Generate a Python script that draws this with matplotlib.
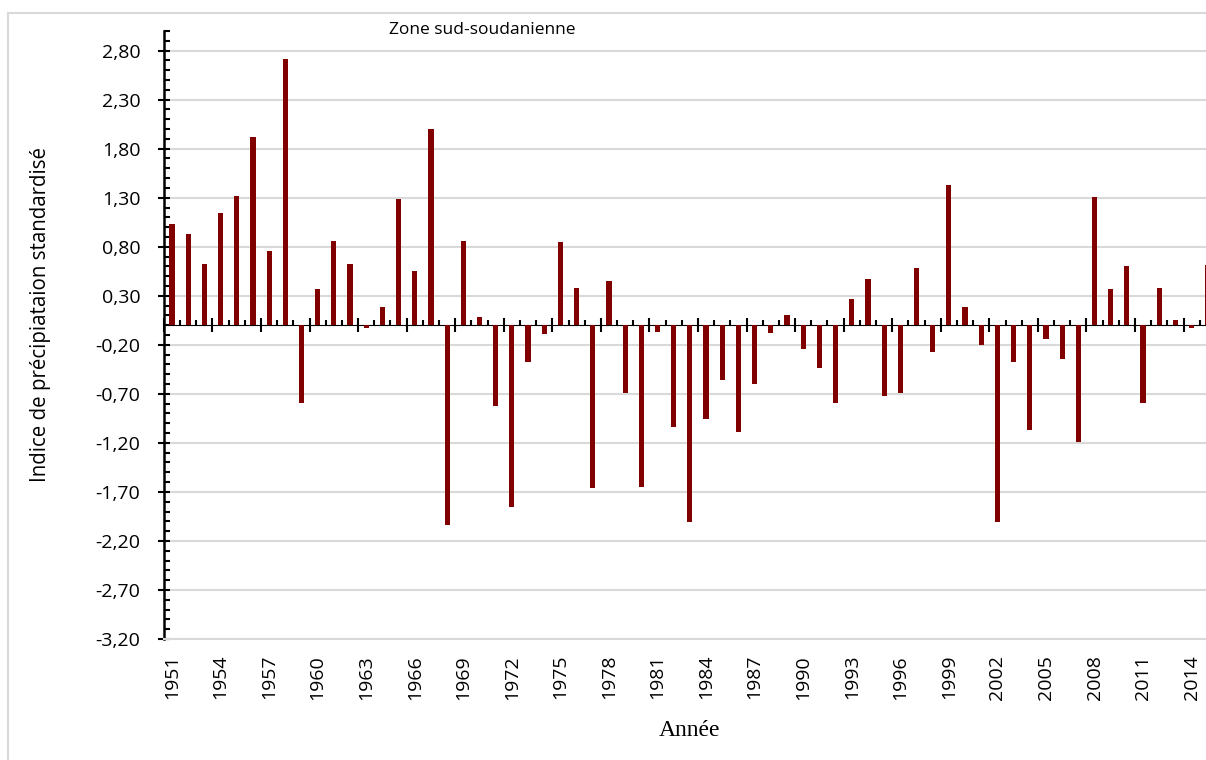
import numpy as np
import matplotlib
matplotlib.use("Agg")
import matplotlib.pyplot as plt
from matplotlib.patches import Rectangle
from matplotlib.ticker import FixedLocator, MultipleLocator, FuncFormatter, NullFormatter

# données (indice standardisé, zone sud-soudanienne)
annees = list(range(1951, 2016))
indice = [1.03, 0.93, 0.62, 1.14, 1.32, 1.92, 0.76, 2.71, -0.79, 0.37,
          0.86, 0.62, -0.03, 0.19, 1.29, 0.55, 2.00, -2.04, 0.86, 0.08,
          -0.82, -1.85, -0.38, -0.09, 0.85, 0.38, -1.66, 0.45, -0.69, -1.65,
          -0.07, -1.04, -2.01, -0.96, -0.56, -1.09, -0.60, -0.08, 0.10, -0.24,
          -0.44, -0.79, 0.27, 0.47, -0.72, -0.69, 0.58, -0.27, 1.43, 0.19,
          -0.20, -2.01, -0.38, -1.07, -0.14, -0.34, -1.19, 1.31, 0.37, 0.60,
          -0.79, 0.38, 0.05, -0.03, 0.61]
y_min, y_max = -3.2, 3.0
titre = "Zone sud-soudanienne"
label_y = "Indice de précipiataion standardisé"
label_x = "Année"

plt.rcParams['font.family'] = ['Open Sans', 'DejaVu Sans']

W, H = 1206, 760
fig = plt.figure(figsize=(W / 100, H / 100), dpi=100)

# cadre de la zone du graphique (coupé à droite et en bas)
fig.add_artist(Rectangle((8 / W, -0.1), 1.2, 1.1 - 12.5 / H,
                         transform=fig.transFigure, fill=False,
                         edgecolor='#D9D9D9', lw=1.5))

# la zone de tracé déborde à droite (image recadrée)
ax = fig.add_axes([163.9 / W, 121 / H, 1052 / W, 608 / H])
x = np.arange(len(annees))
ax.bar(x, indice, width=0.32, color='#800000', zorder=3)

ax.set_xlim(-0.5, len(annees) - 0.5)
ax.set_ylim(y_min, y_max)

# axe Y
ax.yaxis.set_major_locator(FixedLocator(np.arange(y_min, 2.81, 0.5)))
ax.yaxis.set_minor_locator(MultipleLocator(0.1))
ax.yaxis.set_major_formatter(FuncFormatter(lambda v, p: f"{v:.2f}".replace('.', ',')))
ax.tick_params(axis='y', which='major', direction='inout', length=8, width=1.5,
               labelsize=14, pad=13)
ax.tick_params(axis='y', which='minor', direction='in', length=4.3, width=1.5)
ax.grid(axis='y', which='major', color='#D9D9D9', lw=1.5, zorder=0)

# étiquettes des années en bas
ax.set_xticks(x[::3])
ax.set_xticklabels([str(a) for a in annees[::3]], rotation=90)
ax.tick_params(axis='x', which='major', length=0, labelsize=14, pad=11.5)

for s in ['top', 'right']:
    ax.spines[s].set_visible(False)
ax.spines['bottom'].set_color('#D9D9D9')
ax.spines['bottom'].set_linewidth(1.5)
ax.spines['left'].set_linewidth(1.8)

# axe horizontal à zéro avec ses graduations
zero_pos = (0 - y_min) / (y_max - y_min)
sec = ax.secondary_xaxis(zero_pos)
sec.set_xticks(np.arange(-0.5, len(annees), 3))
sec.set_xticks(np.arange(-0.5, len(annees), 1), minor=True)
sec.xaxis.set_major_formatter(NullFormatter())
sec.xaxis.set_minor_formatter(NullFormatter())
sec.tick_params(which='major', direction='inout', length=9.4, width=1.5,
                labelbottom=False, labeltop=False)
sec.tick_params(which='minor', direction='out', length=3.6, width=1.5)
sec.spines['bottom'].set_linewidth(1.8)
sec.spines['bottom'].set_color('black')

ax.set_ylabel(label_y, fontsize=14.8)
ax.yaxis.set_label_coords(-0.107, 0.533)
ax.set_xlabel(label_x, fontsize=17, family='Liberation Serif')
ax.xaxis.set_label_coords(0.5, -0.134)

fig.text(482 / W, 1 - 30 / H, titre, ha='center', va='center', fontsize=12.5)

fig.savefig("out.png", dpi=100)
